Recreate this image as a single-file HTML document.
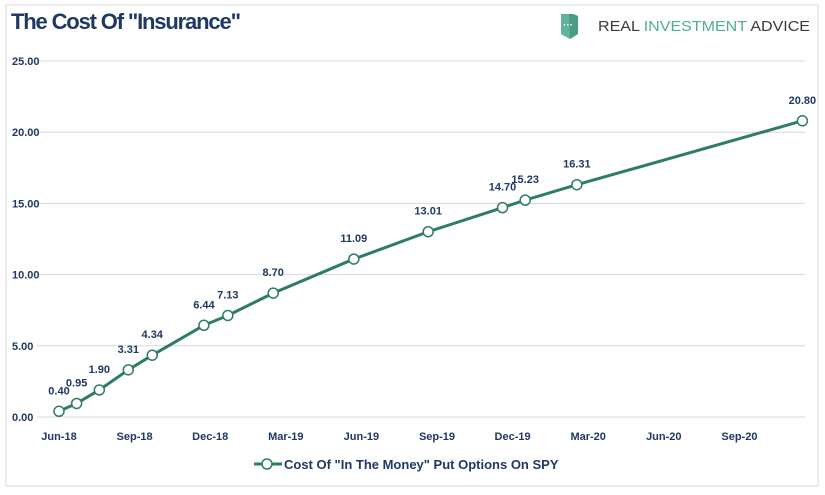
<!DOCTYPE html>
<html><head><meta charset="utf-8"><style>
body{margin:0;background:#fff;width:825px;height:490px;overflow:hidden;font-family:"Liberation Sans",sans-serif}
</style></head><body>
<svg width="825" height="490">
<rect x="6" y="5" width="812" height="481" fill="#fff" stroke="#d9d9d9"/>
<text x="11" y="29" font-size="22" font-weight="bold" fill="#1f3864" font-family="Liberation Sans Narrow, Liberation Sans, sans-serif" textLength="230">The Cost Of "Insurance"</text>
<g>
<path d="M561,14 h12 l5,2 v18 l-8,5 l-9,-5z" fill="#5fb59c"/>
<path d="M569,14 h4 l5,2 v18 l-8,5z" fill="#4a9d85"/>
<text x="563" y="28" font-size="10" font-weight="bold" fill="#fff">···</text>
<text x="598" y="31" font-size="15" fill="#3a3a3a" textLength="212" lengthAdjust="spacingAndGlyphs">REAL <tspan fill="#4fae92">INVESTMENT</tspan> ADVICE</text>
</g>
<g id="grid"></g><g id="axes"></g><g id="series"></g>
<g>
<line x1="254" y1="464" x2="282" y2="464" stroke="#2e7d62" stroke-width="3"/>
<circle cx="267" cy="464" r="5" fill="#fff" stroke="#2e7d62" stroke-width="1.5"/>
<text x="284" y="469" font-size="13" font-weight="bold" fill="#1f3864">Cost Of "In The Money" Put Options On SPY</text>
</g>
</svg>
<script>
const months=[0,0.7,1.6,2.75,3.7,5.75,6.7,8.5,11.7,14.65,17.6,18.5,20.55,29.5];
const values=[0.40,0.95,1.90,3.31,4.34,6.44,7.13,8.70,11.09,13.01,14.70,15.23,16.31,20.80];
const yTicks=[0,5,10,15,20,25];
const xTickLabels=["Jun-18","Sep-18","Dec-18","Mar-19","Jun-19","Sep-19","Dec-19","Mar-20","Jun-20","Sep-20"];
const NS="http://www.w3.org/2000/svg";
const X=m=>59+m*25.2, Y=v=>417-v*14.24;
function mk(t,a,p){const e=document.createElementNS(NS,t);for(const k in a)e.setAttribute(k,a[k]);p.appendChild(e);return e;}
const g=document.getElementById('grid'),ax=document.getElementById('axes'),s=document.getElementById('series');
yTicks.forEach(v=>{
 const l=mk('line',{x1:37,x2:805,y1:Y(v),y2:Y(v),stroke:'#d9d9d9'},g);
 
 
 const t=mk('text',{x:12,y:Y(v)+4,'font-size':11,'font-weight':'bold',fill:'#1f3864'},ax);
 t.textContent=v.toFixed(2);
 
 
});
xTickLabels.forEach((lab,i)=>{
 const t=mk('text',{x:X(i*3),y:440,'font-size':11,'font-weight':'bold',fill:'#1f3864','text-anchor':'middle'},ax);
 t.textContent=lab;
 
 
});
const pl=mk('polyline',{points:months.map((m,i)=>X(m)+','+Y(values[i])).join(' '),fill:'none',stroke:'#2e7d62','stroke-width':3},s);


months.forEach((m,i)=>{
 const c=mk('circle',{cx:X(m),cy:Y(values[i]),r:5,fill:'#fff',stroke:'#2e7d62','stroke-width':1.5},s);
 
 
 const t=mk('text',{x:X(m),y:Y(values[i])-17,'font-size':11,'font-weight':'bold',fill:'#1f3864','text-anchor':'middle'},s);
 t.textContent=values[i].toFixed(2);
 
 
});
</script>
</body></html>
